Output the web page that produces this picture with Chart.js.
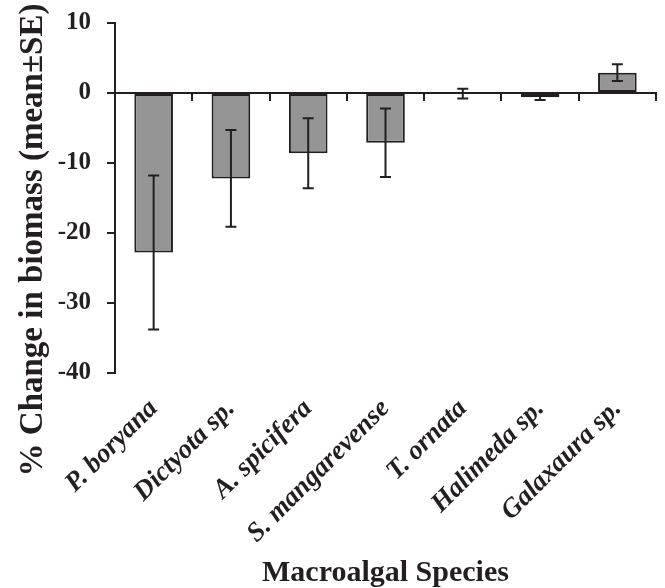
<!DOCTYPE html>
<html>
<head>
<meta charset="utf-8">
<script src="https://cdn.jsdelivr.net/npm/chart.js@4/dist/chart.umd.min.js"></script>
<style>
  html, body { margin: 0; padding: 0; background: #fff; }
  #wrap { width: 665px; height: 588px; }
</style>
</head>
<body>
<div id="wrap"><canvas id="chart"></canvas></div>
<script>
'use strict';

// ── Data ───────────────────────────────────────────────
const species    = ['P. boryana', 'Dictyota sp.', 'A. spicifera', 'S. mangarevense', 'T. ornata', 'Halimeda sp.', 'Galaxaura sp.'];
const meanChange = [-22.8, -12.2, -8.6, -7.1, -0.1, -0.6, 2.9];
const seChange   = [11.0, 6.9, 5.0, 4.9, 0.7, 0.4, 1.2];
const yTicks     = [10, 0, -10, -20, -30, -40];

const INK   = '#231f20';
const SERIF = '"Liberation Serif", "Times New Roman", serif';

// error bars drawn from the y scale
const errorBars = {
  id: 'errorBars',
  afterDatasetsDraw(chart) {
    const { ctx, scales: { y } } = chart;
    const meta = chart.getDatasetMeta(0);
    ctx.save();
    ctx.strokeStyle = INK;
    ctx.lineWidth = 2;
    meta.data.forEach((bar, i) => {
      const top = y.getPixelForValue(meanChange[i] + seChange[i]);
      const bot = y.getPixelForValue(meanChange[i] - seChange[i]);
      ctx.beginPath();
      ctx.moveTo(bar.x, top); ctx.lineTo(bar.x, bot);
      ctx.moveTo(bar.x - 5.5, top); ctx.lineTo(bar.x + 5.5, top);
      ctx.moveTo(bar.x - 5.5, bot); ctx.lineTo(bar.x + 5.5, bot);
      ctx.stroke();
    });
    ctx.restore();
  },
};

// y title is centred on the figure, not on the plot area
const yTitle = {
  id: 'yTitle',
  afterDraw(chart) {
    const { ctx } = chart;
    ctx.save();
    ctx.translate(33, 240);
    ctx.rotate(-Math.PI / 2);
    ctx.font = `bold 33px ${SERIF}`;
    ctx.fillStyle = INK;
    ctx.textAlign = 'center';
    ctx.textBaseline = 'middle';
    ctx.fillText('% Change in biomass (mean±SE)', 0, 0);
    ctx.restore();
  },
};

new Chart(document.getElementById('chart'), {
  type: 'bar',
  data: {
    labels: species,
    datasets: [{
      data:               meanChange,
      backgroundColor:    '#959595',
      borderColor:        INK,
      borderWidth:        2,
      borderSkipped:      false,
      barPercentage:      0.5,
      categoryPercentage: 1,
      xAxisID:            'x',
    }],
  },
  options: {
    responsive:          true,
    maintainAspectRatio: false,
    animation:           false,
    layout: { padding: { top: 23, right: 9, left: 0, bottom: 0 } },
    plugins: {
      legend:  { display: false },
      tooltip: { enabled: false },
    },
    scales: {
      x: {
        position: 'bottom',
        grid:   { display: false },
        border: { display: false },
        ticks: {
          color: INK,
          font: { family: SERIF, size: 27, weight: 'bold', style: 'italic' },
          minRotation: 45,
          maxRotation: 45,
          padding: 12,
          autoSkip: false,
        },
        title: {
          display: true,
          text: 'Macroalgal Species',
          color: INK,
          font: { family: SERIF, size: 30, weight: 'bold', lineHeight: 1 },
          padding: { top: 0, bottom: 0 },
        },
        afterFit(scale) { scale.height = 215; },
      },
      x2: {
        type: 'category',
        labels: species,
        position: { y: 0 },
        offset: true,
        grid: {
          drawOnChartArea: false,
          drawTicks: true,
          tickLength: 7,
          lineWidth: 2,
          color: INK,
          offset: true,
        },
        border: { display: true, width: 2, color: INK },
        ticks: { display: false },
      },
      y: {
        min: -40,
        max: 10,
        afterBuildTicks(scale) { scale.ticks = yTicks.map(v => ({ value: v })); },
        grid: {
          drawOnChartArea: false,
          drawTicks: true,
          tickLength: 8,
          lineWidth: 2,
          color: INK,
        },
        border: { display: true, width: 2, color: INK },
        ticks: {
          color: INK,
          font: { family: SERIF, size: 25, weight: 'bold' },
          padding: 16,
        },
        afterFit(scale) {
          scale.width = 115;
          // tick padding is horizontal only here; don't let it push the plot down
          scale.paddingTop = 8;
          scale.paddingBottom = 8;
        },
      },
    },
  },
  plugins: [errorBars, yTitle],
});
</script>
</body>
</html>
